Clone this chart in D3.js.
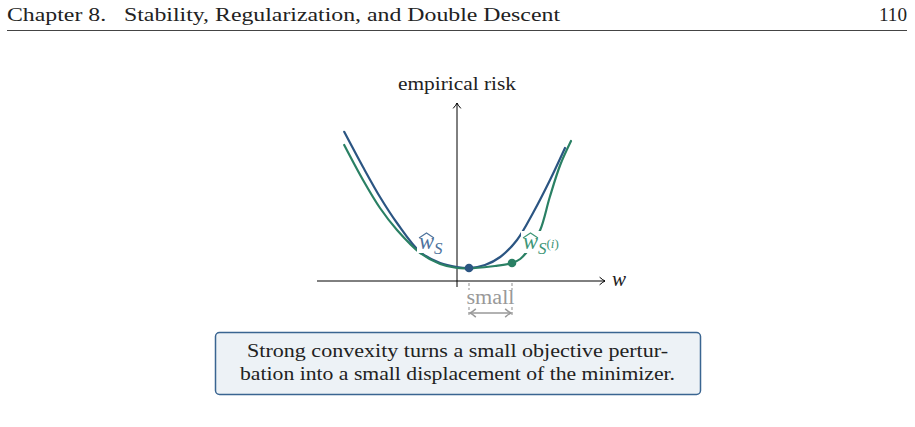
<!DOCTYPE html>
<html lang="en">
<head>
    <meta charset="UTF-8">
    <title>Stability and strong convexity</title>
    <script src="https://d3js.org/d3.v7.min.js"></script>
    <style>
        html, body {
            margin: 0;
            padding: 0;
            background: #fff;
            overflow: hidden;
        }
        svg {
            display: block;
            font-family: "Liberation Serif", "DejaVu Serif", serif;
        }
        .curve {
            fill: none;
            stroke-width: 2.2px;
            stroke-linecap: round;
        }
    </style>
</head>
<body>
<svg width="915" height="427"></svg>
<script>
    // values (w on horizontal axis, empirical risk vertical)
    const blueW = [-1.41, -1.175, -0.9625, -0.75, -0.46, -0.21, 0, 0.15, 0.35, 0.54, 0.75, 0.95, 1.1625, 1.35];
    const blueR = [3.73, 2.85, 2.1, 1.45, 0.725, 0.45, 0.35, 0.325, 0.4, 0.6, 1.025, 1.7, 2.525, 3.325];
    const greenW = [-1.41, -1.175, -0.9625, -0.75, -0.46, -0.21, 0, 0.225, 0.475, 0.6875, 0.79, 0.91, 1.04, 1.16, 1.29, 1.425];
    const greenR = [3.4, 2.525, 1.825, 1.275, 0.7, 0.425, 0.325, 0.325, 0.375, 0.45, 0.55, 0.825, 1.275, 2.1, 2.9, 3.5];
    const minS = [0.15, 0.325];
    const minSi = [0.6875, 0.45];

    const headerLeft = "Chapter 8.\u2002 Stability, Regularization, and Double Descent";
    const headerRight = "110";
    const boxLines = ["Strong convexity turns a small objective pertur-",
                      "bation into a small displacement of the minimizer."];

    const blue = "#2b5582", green = "#2a8064", grey = "#999999";

    const svg = d3.select("svg");
    const x = d3.scaleLinear().domain([-1.75, 1.85]).range([317, 605]);
    const y = d3.scaleLinear().domain([0, 4.45]).range([281, 103]);

    // running header
    svg.append("text").attr("x", 7).attr("y", 21)
        .attr("font-size", 19).attr("fill", "#222")
        .attr("textLength", 553).attr("lengthAdjust", "spacingAndGlyphs")
        .text(headerLeft);
    svg.append("text").attr("x", 907).attr("y", 21)
        .attr("font-size", 19).attr("fill", "#222").attr("text-anchor", "end")
        .attr("textLength", 28).attr("lengthAdjust", "spacingAndGlyphs")
        .text(headerRight);
    svg.append("line").attr("x1", 7).attr("x2", 907).attr("y1", 30.5).attr("y2", 30.5)
        .attr("stroke", "#444").attr("stroke-width", 1);

    // axes
    const arrow = (g, tx, ty, angle, color, s = 1, sw = 1) => g.append("path")
        .attr("d", `M${-4.5 * s},${-3.2 * s} Q${-1.5 * s},${-0.6 * s} 0,0 Q${-1.5 * s},${0.6 * s} ${-4.5 * s},${3.2 * s}`)
        .attr("fill", "none").attr("stroke", color).attr("stroke-width", sw)
        .attr("transform", `translate(${tx},${ty}) rotate(${angle})`);

    const ax = svg.append("g");
    ax.append("line").attr("x1", x(-1.75)).attr("x2", x(1.85))
        .attr("y1", y(0)).attr("y2", y(0)).attr("stroke", "#000").attr("stroke-width", 1);
    arrow(ax, x(1.85), y(0), 0, "#000", 1.2);
    ax.append("line").attr("x1", x(0)).attr("x2", x(0))
        .attr("y1", y(-0.15)).attr("y2", y(4.45)).attr("stroke", "#000").attr("stroke-width", 1);
    arrow(ax, x(0), y(4.45), -90, "#000", 1.2);

    svg.append("text").attr("x", x(0)).attr("y", 90)
        .attr("font-size", 19).attr("fill", "#222").attr("text-anchor", "middle")
        .attr("textLength", 118).attr("lengthAdjust", "spacingAndGlyphs")
        .text("empirical risk");
    svg.append("text").attr("x", 612).attr("y", 286)
        .attr("font-size", 21).attr("font-style", "italic").attr("fill", "#222")
        .text("w");

    // curves
    const line = d3.line().x(d => x(d[0])).y(d => y(d[1])).curve(d3.curveCatmullRom.alpha(0.5));
    svg.append("path").attr("class", "curve").attr("stroke", blue)
        .attr("d", line(d3.zip(blueW, blueR)));
    svg.append("path").attr("class", "curve").attr("stroke", green)
        .attr("d", line(d3.zip(greenW, greenR)));

    // labels with white knock-out
    function hatLabel(px, py, sub, sup, color, wdt) {
        const g = svg.append("g");
        g.append("rect").attr("x", px - 2).attr("y", py - 18)
            .attr("width", wdt).attr("height", 22).attr("fill", "#fff");
        g.append("path")
            .attr("d", `M${px},${py - 11} L${px + 7.5},${py - 16} L${px + 15},${py - 11}`)
            .attr("fill", "none").attr("stroke", color).attr("stroke-width", 1.1);
        const t = g.append("text").attr("x", px).attr("y", py)
            .attr("font-size", 24).attr("font-style", "italic").attr("fill", color);
        t.append("tspan").attr("textLength", 15).attr("lengthAdjust", "spacingAndGlyphs").text("w");
        t.append("tspan").attr("dy", 5).attr("font-size", 17).text(sub);
        if (sup) {
            t.append("tspan").attr("dy", -6).attr("font-size", 13).attr("font-style", "normal").text("(");
            t.append("tspan").attr("font-size", 13).text("i");
            t.append("tspan").attr("font-size", 13).attr("font-style", "normal").text(")");
        }
    }
    hatLabel(419, 249, "S", null, "#4d729c", 30);
    hatLabel(523, 249, "S", "(i)", "#3d9677", 45);

    // minimizers
    svg.append("circle").attr("cx", x(minS[0])).attr("cy", y(minS[1])).attr("r", 4.3).attr("fill", blue);
    svg.append("circle").attr("cx", x(minSi[0])).attr("cy", y(minSi[1])).attr("r", 4.3).attr("fill", green);

    // displacement marker
    const dg = svg.append("g").attr("stroke", grey).attr("stroke-width", 1.1).attr("stroke-dasharray", "3,2");
    [minS[0], minSi[0]].forEach(w => {
        dg.append("line").attr("x1", x(w)).attr("x2", x(w)).attr("y1", 283).attr("y2", 290);
        dg.append("line").attr("x1", x(w)).attr("x2", x(w)).attr("y1", 307).attr("y2", 317);
    });
    svg.append("text").attr("x", (x(minS[0]) + x(minSi[0])) / 2).attr("y", 304)
        .attr("font-size", 20).attr("fill", grey).attr("text-anchor", "middle")
        .attr("textLength", 48).attr("lengthAdjust", "spacingAndGlyphs")
        .text("small");
    svg.append("line").attr("x1", x(minS[0]) + 1).attr("x2", x(minSi[0]) - 1)
        .attr("y1", 313).attr("y2", 313).attr("stroke", grey).attr("stroke-width", 1.6);
    arrow(svg, x(minS[0]) + 1, 313, 180, grey, 1.3, 1.5);
    arrow(svg, x(minSi[0]) - 1, 313, 0, grey, 1.3, 1.5);

    // caption box
    svg.append("rect").attr("x", 215.5).attr("y", 332.5).attr("width", 485).attr("height", 62)
        .attr("rx", 4).attr("fill", "#edf2f6").attr("stroke", "#3a6591").attr("stroke-width", 1.5);
    const widths = [421, 435];
    boxLines.forEach((s, i) => {
        svg.append("text").attr("x", 457.5).attr("y", 357 + i * 23)
            .attr("font-size", 19).attr("fill", "#222").attr("text-anchor", "middle")
            .attr("textLength", widths[i]).attr("lengthAdjust", "spacingAndGlyphs")
            .text(s);
    });
</script>
</body>
</html>
